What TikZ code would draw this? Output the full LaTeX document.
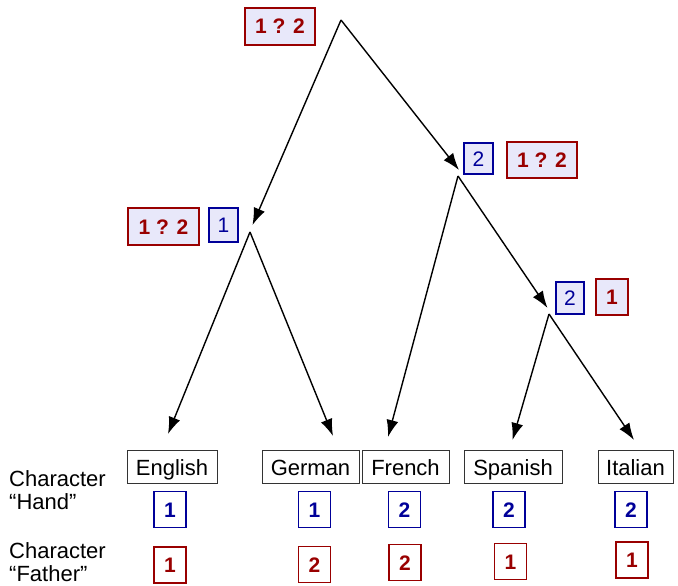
\documentclass[tikz,border=0pt]{standalone}
\usepackage{fontspec}
\setmainfont{Liberation Sans}
\usetikzlibrary{arrows.meta}
\definecolor{dred}{HTML}{990000}
\definecolor{dblue}{HTML}{000099}
\definecolor{lav}{HTML}{E8E8FA}
\begin{document}
\begin{tikzpicture}[x=1pt,y=-1pt,
  arr/.style={draw=black,line width=1.4pt,-{Latex[length=17pt,width=12pt]}},
  leaf/.style={draw=black!80,line width=1pt,minimum height=33pt,inner xsep=0pt,text height=16pt,text depth=0pt,font=\fontsize{22}{24}\selectfont},
  redbox/.style={draw=dred,line width=1.5pt,text=dred,font=\fontsize{21}{24}\selectfont\bfseries,inner sep=0pt,text height=15pt,text depth=0pt},
  bluebox/.style={draw=dblue,line width=1.5pt,text=dblue,font=\fontsize{21}{24}\selectfont\bfseries,inner sep=0pt,text height=15pt,text depth=0pt},
  intlabel/.style={fill=lav},
  lbl/.style={align=left,anchor=north west,inner sep=0pt,font=\fontsize{22}{23.5}\selectfont}]
\useasboundingbox (0,0) rectangle (678,586);
% tree points
\coordinate (root) at (341,20);
\coordinate (L) at (250,232);
\coordinate (R) at (458,176);
\coordinate (RR) at (549,314);
% leaves
\node[leaf,minimum width=90pt] (eng) at (172,467) {English};
\node[leaf,minimum width=97pt] (ger) at (310.5,467) {German};
\node[leaf,minimum width=87pt] (fre) at (405.5,467) {French};
\node[leaf,minimum width=98pt] (spa) at (513,467) {Spanish};
\node[leaf,minimum width=75pt] (ita) at (635.5,467) {Italian};
% arrow tips
\coordinate (tL) at (252.5,225);
\coordinate (tR) at (459,170);
\coordinate (tRR) at (547.5,308);
\coordinate (teng) at (168,434);
\coordinate (tger) at (333,436);
\coordinate (tfre) at (388,437);
\coordinate (tspa) at (512.5,440);
\coordinate (tita) at (634,440);
\draw[arr] (root) -- (tL);
\draw[arr] (root) -- (tR);
\draw[arr] (L) -- (teng);
\draw[arr] (L) -- (tger);
\draw[arr] (R) -- (tfre);
\draw[arr] (R) -- (tRR);
\draw[arr] (RR) -- (tspa);
\draw[arr] (RR) -- (tita);
% internal labels
\node[redbox,intlabel,minimum width=70pt,minimum height=37pt] (rootlab) at (280,26.5) {1 ? 2};
\node[redbox,intlabel,minimum width=71pt,minimum height=37pt] (Llab) at (163.5,226.5) {1 ? 2};
\node[bluebox,intlabel,minimum width=29pt,minimum height=34pt,font=\fontsize{21}{24}\selectfont] (Lhand) at (223.5,225) {1};
\node[bluebox,intlabel,minimum width=29pt,minimum height=31pt,font=\fontsize{21}{24}\selectfont] (Rhand) at (478.5,158.5) {2};
\node[redbox,intlabel,minimum width=70pt,minimum height=36pt] (Rlab) at (542,160) {1 ? 2};
\node[bluebox,intlabel,minimum width=28pt,minimum height=32pt,font=\fontsize{21}{24}\selectfont] (RRhand) at (570,298) {2};
\node[redbox,intlabel,minimum width=32pt,minimum height=36pt] (RRlab) at (612,297) {1};
% hand row
\node[bluebox,minimum width=32pt,minimum height=36pt] (hEng) at (170,509.5) {1};
\node[bluebox,minimum width=32pt,minimum height=36pt] (hGer) at (314.5,509.5) {1};
\node[bluebox,minimum width=32pt,minimum height=36pt] (hFre) at (404.5,509.5) {2};
\node[bluebox,minimum width=32pt,minimum height=36pt] (hSpa) at (509,509.5) {2};
\node[bluebox,minimum width=32pt,minimum height=36pt] (hIta) at (631,509.5) {2};
% father row
\node[redbox,minimum width=32pt,minimum height=36pt] (fEng) at (170,565) {1};
\node[redbox,minimum width=32pt,minimum height=36pt] (fGer) at (314.5,564.5) {2};
\node[redbox,minimum width=32pt,minimum height=36pt] (fFre) at (405,562.5) {2};
\node[redbox,minimum width=32pt,minimum height=36pt] (fSpa) at (510.5,561.5) {1};
\node[redbox,minimum width=32pt,minimum height=36pt] (fIta) at (632,560) {1};
% row labels
\node[lbl] (handlab) at (9,470) {Character\\“Hand”};
\node[lbl] (fatherlab) at (9,542) {Character\\“Father”};
\end{tikzpicture}
\end{document}
